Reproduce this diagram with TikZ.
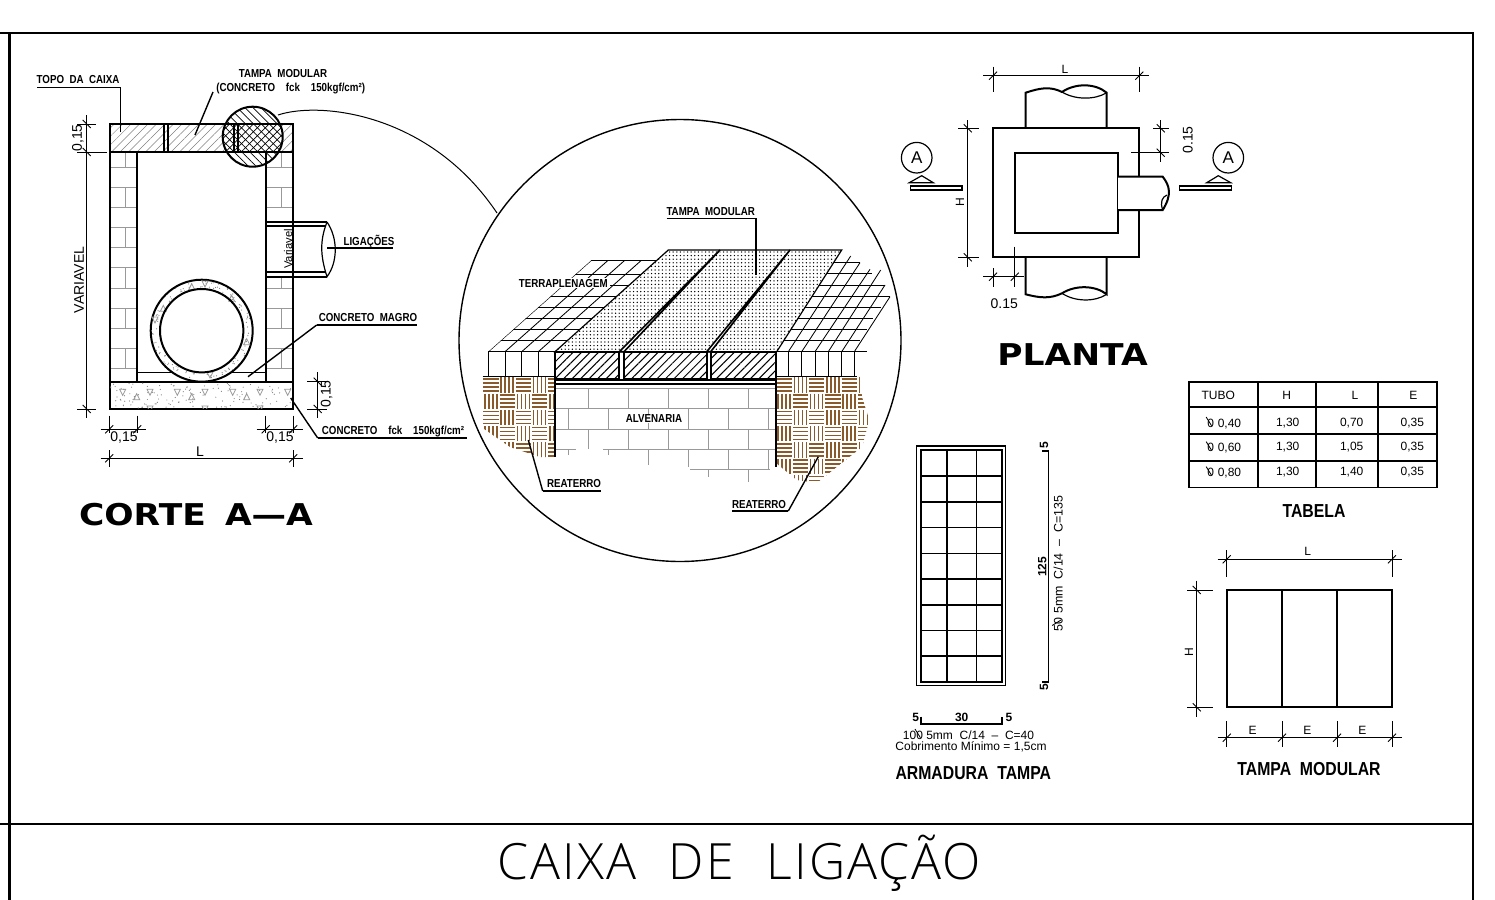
\documentclass[tikz,border=0pt]{standalone}
\usepackage{fontspec}
\usetikzlibrary{patterns.meta}
\setmainfont{Liberation Sans}
\newfontfamily\cadfont[FakeStretch=.84,WordSpace=2]{Liberation Sans}
\newfontfamily\titlefont[FakeStretch=1.15,WordSpace=1.6]{DejaVu Sans}
\newfontfamily\bigfont[WordSpace=2.2,LetterSpace=4]{Open Sans Light}
\definecolor{soil}{HTML}{8A5A2B}
\tikzset{
  heavy/.style={line width=1pt},
  wire/.style={line width=.6pt},
  gridline/.style={line width=.42pt},
  dimline/.style={line width=.45pt},
  brick/.style={line width=.4pt,draw=gray!80},
  leader/.style={line width=.7pt},
  lbl/.style={font=\cadfont\bfseries\fontsize{5.8}{6}\selectfont,inner sep=0pt},
  dimtxt/.style={font=\fontsize{7}{8}\selectfont,inner sep=0pt},
  note/.style={font=\fontsize{6}{7}\selectfont,inner sep=0pt},
  celltxt/.style={font=\fontsize{6}{7}\selectfont,inner sep=0pt},
  subtitle/.style={font=\cadfont\bfseries\fontsize{9.4}{10}\selectfont,inner sep=0pt},
  viewtitle/.style={font=\titlefont\bfseries\fontsize{15}{16}\selectfont,inner sep=0pt},
  lidhatch/.style={pattern={Lines[angle=45,distance=3pt,line width=.25pt]},pattern color=gray},
  facehatch/.style={pattern={Lines[angle=45,distance=3pt,line width=.5pt]},pattern color=black},
  tampadots/.style={pattern={Dots[distance=1.8pt,radius=.36pt]},pattern color=black},
}
\newcommand{\tickh}[2]{\draw[dimline] (#1-4,#2+4) -- (#1+4,#2-4);}
\newcommand{\tickv}[2]{\draw[dimline] (#1-4,#2-4) -- (#1+4,#2+4);}
\newcommand{\trid}[2]{\draw[brick] (#1-3,#2-3) -- (#1+3,#2-3) -- (#1,#2+3) -- cycle;}
\newcommand{\triu}[2]{\draw[brick] (#1-3,#2+3) -- (#1+3,#2+3) -- (#1,#2-3) -- cycle;}
\newcommand{\diam}{\rlap{\kern-.14em\raisebox{.05em}{\rotatebox[origin=c]{32}{\rule{.07em}{.85em}}}}0}
\newcommand{\basket}[4]{%
  \foreach \i in {1,...,#3} {\foreach \j in {1,...,#4} {
    \pgfmathtruncatemacro{\odd}{mod(\i+\j,2)}
    \foreach \k in {2,6,10,14} {
      \ifnum\odd=0
        \draw[soil,line width=.8pt] (#1+\i*16.3-15.8,#2+\j*16.3-16.3+\k) -- ++(15.3,0);
      \else
        \draw[soil,line width=.8pt] (#1+\i*16.3-16.3+\k,#2+\j*16.3-15.8) -- ++(0,15.3);
      \fi
    }
  }}}
\begin{document}
\begin{tikzpicture}[x=.5pt,y=-.5pt]
  \useasboundingbox (0,0) rectangle (1495,900);

  \draw[line width=1.1pt] (0,33) -- (1473,33) -- (1473,900);
  \draw[line width=1.1pt] (0,824) -- (1473,824);
  \draw[line width=1.3pt] (9.5,33) -- (9.5,900);
  \node[font=\bigfont\fontsize{25}{28}\selectfont,inner sep=0pt] (caixa) at (739,863) {CAIXA DE LIGAÇÃO};

  % corte
  \foreach \y/\a/\b in {152/167/0,167/187/1,187/207/0,207/227/1,227/247/0,247/267/1,267/288/0,288/308/1,308/328/0,328/348/1,348/368/0,368/381.7/1} {
    \draw[brick] (109.5,\a) -- (137,\a);
    \draw[brick] (265.5,\a) -- (293,\a);
    \ifnum\b=0
      \draw[brick] (125.7,\y) -- (125.7,\a);
      \draw[brick] (281.7,\y) -- (281.7,\a);
    \fi
  }
  \draw[lidhatch] (109.5,124) rectangle (293,152);
  \fill[white] (266,222) rectangle (293,277);
  \draw[heavy] (109.5,124) rectangle (293,152);
  \draw[heavy] (109.5,152) -- (109.5,381.7);
  \draw[heavy] (293,152) -- (293,381.7);
  \draw[heavy] (137,152) -- (137,381.7);
  \draw[heavy] (265.5,152) -- (265.5,381.7);
  \draw[heavy] (164,124) -- (164,152) (168,124) -- (168,152);
  \draw[heavy] (234,124) -- (234,152) (238,124) -- (238,152);
  \draw[wire] (137,372.3) -- (265.5,372.3);
  \draw[heavy] (109.5,381.7) rectangle (293,409);

  \pgfmathsetseed{7}
  \begin{scope}
    \clip (110,382) rectangle (293,408.5);
    \foreach \n in {1,...,130} {
      \pgfmathsetmacro{\dx}{110+183*rnd}
      \pgfmathsetmacro{\dy}{383+25*rnd}
      \fill[gray] (\dx,\dy) circle (.6);
    }
    \foreach \x in {122.7,150,177.3,205,232.7,260,287.7} {\trid{\x}{392.3}}
    \foreach \x in {136.7,191.7,246.7} {\triu{\x}{396.7}}
    \foreach \x in {150,205,260} {\trid{\x}{409}}
  \end{scope}

  \draw[heavy,fill=white] (201.7,330.7) circle (51);
  \foreach \n in {1,...,110} {
    \pgfmathsetmacro{\dr}{43+7*rnd}
    \pgfmathsetmacro{\da}{360*rnd}
    \fill[gray] (201.7+\dr*cos \da,330.7+\dr*sin \da) circle (.6);
  }
  \foreach \x/\y in {191.7/286.7,163.3/308.3,246.7/341.7,231.7/298.3} {\triu{\x}{\y}}
  \foreach \x/\y in {205/284,155/320,210/375} {\trid{\x}{\y}}
  \draw[heavy] (201.7,330.7) circle (41.7);

  \draw[heavy] (265.5,222) -- (327,222) (265.5,276.7) -- (327,276.7);
  \draw[wire] (265.5,226) -- (325,226) (265.5,272) -- (325,272);
  \draw[wire,fill=white] (327,222) .. controls (320,240) and (320,255) .. (327,276.7)
    .. controls (338,262) and (338,238) .. (327,222);
  \node[dimtxt,rotate=90,font=\fontsize{5.6}{7}\selectfont] (variavelp) at (288,249) {Variavel};

  \begin{scope}
    \clip (252.7,136.7) circle (30);
    \fill[white] (222,106) rectangle (283,167);
    \draw[brick] (265.5,152) rectangle (293,167);
    \fill[pattern={Lines[angle=-45,distance=2.8pt,line width=.35pt]}] (222,106) rectangle (283,167);
    \fill[pattern={Lines[angle=45,distance=2.8pt,line width=.35pt]}] (222,124) rectangle (283,152);
    \draw[heavy] (222,124) -- (283,124) (222,152) -- (283,152);
    \draw[heavy] (234,124) -- (234,152) (238,124) -- (238,152);
    \draw[heavy] (265.5,152) -- (265.5,167);
  \end{scope}
  \draw[heavy] (252.7,136.7) circle (30);
  \draw[line width=.5pt] (278,115) .. controls (320,101) and (430,113) .. (497,213);

  \node[lbl] (topo) at (78,80) {TOPO DA CAIXA};
  \node[lbl] (tampa) at (283,74) {TAMPA MODULAR};
  \node[lbl] (tampa2) at (290.7,89) {(CONCRETO\ \ fck\ \ 150kgf/cm²)};
  \node[lbl] (ligacoes) at (369,242) {LIGAÇÕES};
  \node[lbl] (magro) at (368,318) {CONCRETO MAGRO};
  \node[lbl] (fck) at (393,432) {CONCRETO\ \ fck\ \ 150kgf/cm²};
  \coordinate (topoa) at (37,87.3);
  \coordinate (topob) at (120.7,87.3);
  \coordinate (topoc) at (120.7,131.7);
  \coordinate (tampaa) at (213,92);
  \coordinate (tampab) at (195,135);
  \coordinate (liga) at (327,248);
  \coordinate (ligb) at (393,248);
  \coordinate (magroa) at (416.7,325);
  \coordinate (magrob) at (316.7,325);
  \coordinate (magroc) at (248,376.7);
  \coordinate (fcka) at (466.7,438);
  \coordinate (fckb) at (317.7,438);
  \coordinate (fckc) at (290.7,398);
  \path (topoa) edge[leader] (topob);
  \path (topob) edge[leader] (topoc);
  \path (tampaa) edge[leader] (tampab);
  \path (liga) edge[leader] (ligb);
  \path (magroa) edge[leader] (magrob);
  \path (magrob) edge[leader] (magroc);
  \path (fcka) edge[leader] (fckb);
  \path (fckb) edge[leader] (fckc);

  \draw[dimline] (86.7,115) -- (86.7,418);
  \foreach \y/\a in {124/96,152/107,409/96} {
    \draw[dimline] (77,\y) -- (\a,\y);
    \tickv{86.7}{\y}
  }
  \node[dimtxt,rotate=90] (d015a) at (78,138) {0,15};
  \node[dimtxt,rotate=90] (dvar) at (79,280) {VARIAVEL};
  \draw[dimline] (100.7,429.3) -- (146,429.3) (256.7,429.3) -- (302.7,429.3);
  \foreach \x in {109.3,137.3,265.7,293.3} {
    \draw[dimline] (\x,415.7) -- (\x,433);
    \tickh{\x}{429.3}
  }
  \node[dimtxt] (d015b) at (124,437.7) {0,15};
  \node[dimtxt] (d015c) at (280,437.7) {0,15};
  \draw[dimline] (100.7,458.3) -- (302.7,458.3);
  \foreach \x in {109.3,293.3} {
    \draw[dimline] (\x,450) -- (\x,467);
    \tickh{\x}{458.3}
  }
  \node[dimtxt] (dl) at (200,451.7) {L};
  \draw[dimline] (317.7,372.3) -- (317.7,418.3);
  \foreach \y in {381.7,409} {
    \draw[dimline] (307,\y) -- (326.7,\y);
    \tickv{317.7}{\y}
  }
  \node[dimtxt,rotate=90] (d015d) at (326.7,394) {0,15};
  \node[viewtitle] (corte) at (196,515) {CORTE A—A};

  % detalhe
  \draw[line width=.7pt] (680,340.5) circle (221);
  \begin{scope}
    \clip (482.7,377) -- (555,377) -- (555,457) -- (540,457) -- (510,447) -- (482.7,428) -- cycle;
    \basket{482.7}{376.7}{5}{5}
  \end{scope}
  \begin{scope}
    \clip (776,377) -- (860,377) -- (862,397) -- (869.3,420) -- (862,447) -- (836.7,467) -- (816.7,483) -- (796.7,480) -- (776,463) -- cycle;
    \basket{776}{376.7}{6}{7}
  \end{scope}

  \foreach \y in {388.3,408.3,429} {\draw[brick] (555,\y) -- (776,\y);}
  \draw[brick] (555,449) -- (576,449) (603,449) -- (776,449);
  \draw[brick] (690,469) -- (770,469);
  \foreach \x in {588.3,628.3,668.3,708.3,748.3} {
    \draw[brick] (\x,388.3) -- (\x,408.3);
    \draw[brick] (\x,429) -- (\x,449);
  }
  \foreach \x in {568.3,608.3,648.3,688.3,728.3,768.3} {\draw[brick] (\x,408.3) -- (\x,429);}
  \foreach \x/\e in {568.3/455,608.3/455,648.3/465,688.3/467,728.3/469,768.3/469} {\draw[brick] (\x,449) -- (\x,\e);}
  \draw[brick] (708.3,469) -- (708.3,477) (748.3,469) -- (748.3,482);

  \begin{scope}
    \clip (488.3,351.7) -- (591.7,260) -- (657,260) -- (555,351.7) -- cycle;
    \foreach \y in {260,274.3,285,296.7,307.7,318.3,329.3,340} {\draw[gridline] (480,\y) -- (670,\y);}
    \foreach \x in {488.3,505,521.7,538.3} {\draw[gridline] (\x,351.7) -- (\x+104,259.5);}
  \end{scope}
  \draw[gridline] (488.3,351.7) -- (555,351.7);
  \foreach \x in {488.3,505,521.7,538.3} {\draw[gridline] (\x,351.7) -- (\x,376.7);}
  \draw[gridline] (482.7,376.7) -- (555,376.7);

  \foreach \y/\e in {262.7/860,273.3/872,285/885,296.7/890,307.7/881,318.3/873,329.3/867,340/860} {
    \pgfmathsetmacro{\s}{776.7+(351.7-\y)*.639}
    \draw[gridline] (\s,\y) -- (\e,\y);
  }
  \draw[gridline] (788.3,351.7) -- (850.7,256);
  \draw[gridline] (801.7,351.7) -- (860,262.7);
  \draw[gridline] (815,351.7) -- (870,269.3);
  \draw[gridline] (828.3,351.7) -- (880.7,270);
  \draw[gridline] (841.7,351.7) -- (885,285);
  \draw[gridline] (854.3,351.7) -- (890,296.7);
  \draw[gridline] (776.7,351.7) -- (866.7,351.7);
  \foreach \x in {776.7,788.3,801.7,815,828.3,841.7,854.3} {\draw[gridline] (\x,351.7) -- (\x,376.7);}
  \draw[gridline] (776,376.7) -- (856.7,376.7);

  \draw[wire,tampadots] (668.3,250) -- (841.7,250) -- (776.7,351.7) -- (555,351.7) -- cycle;
  \draw[line width=.8pt,fill=white] (720,250) -- (619.3,351.7) -- (624,351.7) -- cycle;
  \draw[line width=.8pt,fill=white] (790,250) -- (706.7,351.7) -- (710.7,351.7) -- cycle;
  \draw[heavy,facehatch] (555,351.7) rectangle (619.3,379);
  \draw[heavy,facehatch] (624,351.7) rectangle (706.7,379);
  \draw[heavy,facehatch] (710.7,351.7) rectangle (776,379);
  \draw[heavy] (555,380) -- (776,380) (555,384) -- (776,384);
  \draw[heavy] (555,379) -- (555,456.7);
  \draw[heavy] (776,379) -- (776,466.7);

  \node[lbl,fill=white,inner xsep=1pt,inner ysep=.5pt] (terra) at (563.3,283.3) {TERRAPLENAGEM};
  \node[lbl] (tampad) at (710.7,212) {TAMPA MODULAR};
  \node[lbl,fill=white,inner xsep=1pt] (alven) at (654,419) {ALVENARIA};
  \node[lbl] (reatl) at (574,484) {REATERRO};
  \node[lbl] (reatr) at (759,504) {REATERRO};
  \coordinate (tampada) at (666.7,218.3);
  \coordinate (tampadb) at (756,218.3);
  \coordinate (tampadc) at (756,275);
  \coordinate (reatla) at (600.7,491);
  \coordinate (reatlb) at (542.7,491);
  \coordinate (reatlc) at (528.3,440);
  \coordinate (reatra) at (732.3,511);
  \coordinate (reatrb) at (788.3,511);
  \coordinate (reatrc) at (818.3,456.7);
  \path (tampada) edge[leader] (tampadb);
  \path (tampadb) edge[leader] (tampadc);
  \path (reatla) edge[leader] (reatlb);
  \path (reatlb) edge[leader] (reatlc);
  \path (reatra) edge[leader] (reatrb);
  \path (reatrb) edge[leader] (reatrc);

  % planta
  \draw[heavy] (993,128.3) rectangle (1139.3,257.3);
  \draw[heavy] (1014.7,152.7) rectangle (1118,233.3);
  \draw[heavy] (1025.7,128.3) -- (1025.7,92.7) .. controls (1040,88) and (1050,86) .. (1062,92)
    .. controls (1075,83) and (1095,83) .. (1106.7,92.7) -- (1106.7,128.3);
  \draw[wire] (1062,92) .. controls (1075,100) and (1095,100) .. (1106.7,92.7);
  \draw[heavy] (1025.7,257.3) -- (1025.7,294.3) .. controls (1040,298) and (1050,299) .. (1062,293.3)
    .. controls (1075,285) and (1095,285) .. (1106.7,294.3) -- (1106.7,257.3);
  \draw[wire] (1062,293.3) .. controls (1075,302) and (1095,302) .. (1106.7,294.3);
  \draw[heavy,fill=white] (1118,176.7) -- (1162.7,176.7) .. controls (1170,186) and (1172,195) .. (1162.7,210) -- (1118,210);
  \draw[wire] (1162.7,210) .. controls (1160,202) and (1162,197) .. (1167,195);

  \draw[dimline] (983.3,75.7) -- (1148.7,75.7);
  \foreach \x in {993,1139.3} {
    \draw[dimline] (\x,66.7) -- (\x,92.3);
    \tickh{\x}{75.7}
  }
  \node[dimtxt,font=\fontsize{6}{7}\selectfont] (pl) at (1065,69) {L};
  \draw[dimline] (967.7,120) -- (967.7,266.7);
  \foreach \y in {128.3,257.3} {
    \draw[dimline] (958.3,\y) -- (979.3,\y);
    \tickv{967.7}{\y}
  }
  \node[dimtxt,rotate=90,font=\fontsize{6}{7}\selectfont] (ph) at (960,202.3) {H};
  \draw[dimline] (1160.7,120) -- (1160.7,162);
  \draw[dimline] (1153.3,128.3) -- (1169.3,128.3) (1131.3,152.7) -- (1169.3,152.7);
  \tickv{1160.7}{128.3}
  \tickv{1160.7}{152.7}
  \node[dimtxt,rotate=90] (p015a) at (1187.7,140) {0.15};
  \draw[dimline] (983.3,276.7) -- (1024,276.7);
  \draw[dimline] (993,268) -- (993,287) (1014.7,246.7) -- (1014.7,286.7);
  \tickh{993}{276.7}
  \tickh{1014.7}{276.7}
  \node[dimtxt] (p015b) at (1004.3,304) {0.15};

  \node[draw,circle,line width=.6pt,minimum size=15.3pt,inner sep=0pt,font=\fontsize{8.5}{9}\selectfont] (al) at (916.7,157.7) {A};
  \node[draw,circle,line width=.6pt,minimum size=15.3pt,inner sep=0pt,font=\fontsize{8.5}{9}\selectfont] (ar) at (1228.3,157.7) {A};
  \draw[wire] (909.3,182.7) -- (921.7,175.7) -- (933.3,182.7) -- cycle;
  \draw[wire] (1206.7,182.7) -- (1218.3,175.7) -- (1230.7,182.7) -- cycle;
  \draw[wire] (910.7,186) rectangle (962,190);
  \draw[wire] (1179.3,186) rectangle (1231.7,190);
  \node[viewtitle] (planta) at (1072.5,355) {PLANTA};

  % armadura
  \draw[wire] (916.7,446) rectangle (1005.7,685.7);
  \draw[wire,line width=.8pt] (920.7,450) rectangle (1001.7,681.7);
  \foreach \x in {946.7,976.3} {\draw[wire,line width=.8pt] (\x,450) -- (\x,681.7);}
  \foreach \y in {476,501.7,527.3,553.3,579,604.7,630.3,656} {\draw[wire,line width=.8pt] (920.7,\y) -- (1001.7,\y);}
  \draw[wire,line width=.8pt] (1042,450.7) -- (1048.3,450.7) -- (1048.3,681.7) -- (1042,681.7);
  \draw[wire,line width=.8pt] (921,716.7) -- (921,723.7) -- (1001.7,723.7) -- (1001.7,716.7);
  \node[lbl,rotate=90,font=\bfseries\fontsize{6}{7}\selectfont] (a5a) at (1044,445) {5};
  \node[lbl,rotate=90,font=\bfseries\fontsize{6}{7}\selectfont] (a5b) at (1044,686.7) {5};
  \node[lbl,rotate=90,font=\bfseries\fontsize{6}{7}\selectfont] (a125) at (1042.3,566.7) {125};
  \node[note,rotate=90,font=\fontsize{6.2}{7}\selectfont] (abar) at (1057.3,563.3) {5\diam{}\ 5mm\ \ C/14\ \ –\ \ C=135};
  \node[lbl,font=\bfseries\fontsize{6}{7}\selectfont] (a5c) at (915.7,717.3) {5};
  \node[lbl,font=\bfseries\fontsize{6}{7}\selectfont] (a30) at (961.7,717.3) {30};
  \node[lbl,font=\bfseries\fontsize{6}{7}\selectfont] (a5d) at (1009,717.3) {5};
  \node[note] (anota) at (968.5,734) {10\diam{}\ 5mm\ \ C/14\ \ –\ \ C=40};
  \node[note] (anotb) at (971,746.7) {Cobrimento Mínimo = 1,5cm};
  \node[subtitle] (armadura) at (973.3,773.3) {ARMADURA TAMPA};

  % tabela
  \draw[wire,line width=.8pt] (1188.7,381.7) rectangle (1436.7,487.3);
  \foreach \x in {1258,1316,1378} {\draw[wire,line width=.8pt] (\x,381.7) -- (\x,487.3);}
  \foreach \y in {406.7,434,460.7} {\draw[wire,line width=.8pt] (1188.7,\y) -- (1436.7,\y);}
  \node[celltxt] (ctubo) at (1218.3,395) {TUBO};
  \node[celltxt] (ch) at (1286.7,395) {H};
  \node[celltxt] (cl) at (1355,395) {L};
  \node[celltxt] (ce) at (1413.3,395) {E};
  \foreach \r/\y/\d/\l in {a/422.7/{0,40}/{0,70},b/447.3/{0,60}/{1,05},c/472.3/{0,80}/{1,40}} {
    \node[celltxt] (t\r) at (1224.3,\y) {\diam\hspace{.3em}\d};
    \node[celltxt] (h\r) at (1287.7,\y) {1,30};
    \node[celltxt] (l\r) at (1351.7,\y) {\l};
    \node[celltxt] (e\r) at (1412.3,\y) {0,35};
  }
  \node[subtitle] (tabela) at (1314,510.7) {TABELA};

  % tampa modular
  \draw[heavy] (1226.7,590) rectangle (1392,707.3);
  \draw[heavy] (1282,590) -- (1282,707.3) (1337,590) -- (1337,707.3);
  \draw[dimline] (1217.7,559.3) -- (1401.7,559.3);
  \foreach \x in {1226.7,1392} {
    \draw[dimline] (\x,550) -- (\x,576.7);
    \tickh{\x}{559.3}
  }
  \node[dimtxt,font=\fontsize{6}{7}\selectfont] (ml) at (1307.7,551.7) {L};
  \draw[dimline] (1196.7,580.7) -- (1196.7,716.7);
  \foreach \y in {590,707.3} {
    \draw[dimline] (1187.3,\y) -- (1213.3,\y);
    \tickv{1196.7}{\y}
  }
  \node[dimtxt,rotate=90,font=\fontsize{6}{7}\selectfont] (mh) at (1189,651.7) {H};
  \draw[dimline] (1217.7,737.7) -- (1401.7,737.7);
  \foreach \x in {1226.7,1282,1337,1392} {
    \draw[dimline] (\x,721) -- (\x,746.7);
    \tickh{\x}{737.7}
  }
  \node[dimtxt,font=\fontsize{6}{7}\selectfont] (me1) at (1252.7,730) {E};
  \node[dimtxt,font=\fontsize{6}{7}\selectfont] (me2) at (1307.3,730) {E};
  \node[dimtxt,font=\fontsize{6}{7}\selectfont] (me3) at (1362.3,730) {E};
  \node[subtitle] (mtitle) at (1309,769.3) {TAMPA MODULAR};
\end{tikzpicture}
\end{document}
